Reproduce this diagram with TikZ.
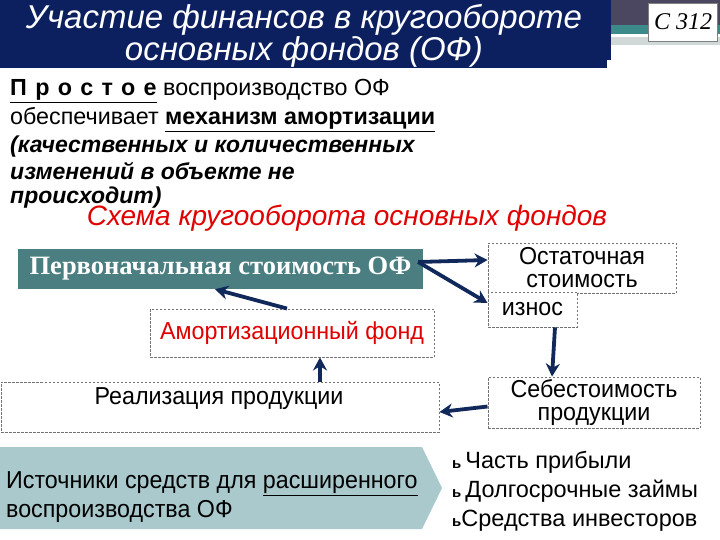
\documentclass[tikz,border=0pt]{standalone}
\usepackage{fontspec}
\setmainfont{Liberation Sans}
\newfontfamily\serifb{Liberation Serif}
\newfontfamily\narrow[FakeStretch=0.95]{Liberation Sans}
\usetikzlibrary{arrows.meta,calc}
\definecolor{navy}{RGB}{12,32,96}
\definecolor{tealbox}{RGB}{74,126,128}
\definecolor{arrowc}{RGB}{16,40,90}
\definecolor{pent}{RGB}{169,201,204}
\definecolor{redt}{RGB}{224,0,0}
\definecolor{topgray}{RGB}{75,71,96}
\definecolor{stripe}{RGB}{61,138,138}
\definecolor{lightstripe}{RGB}{208,216,216}
\tikzset{
  dbox/.style={draw=black!55, dashed, dash pattern=on 2.5pt off 1.5pt, line width=0.9pt, inner sep=0pt},
  arr/.style={draw=arrowc, line width=3.8pt, -{Stealth[length=13pt,width=14pt]}},
  bodyt/.style={inner sep=0pt, anchor=base west, font=\fontsize{23.3}{26}\selectfont},
  bodyi/.style={inner sep=0pt, anchor=base west, font=\bfseries\itshape\fontsize{23}{26}\selectfont},
  boxt/.style={inner sep=0pt, font=\narrow\fontsize{24.5}{26}\selectfont},
  bullt/.style={inner sep=0pt, anchor=west, font=\fontsize{23.5}{26}\selectfont},
}
\begin{document}
\begin{tikzpicture}[x=1pt,y=-1pt]
\useasboundingbox (0,0) rectangle (720,540);
% title bar
\fill[navy] (0,0) rectangle (607,68);
\fill[topgray] (607,0) rectangle (720,25);
\fill[stripe] (607,25) rectangle (720,34);
\fill[lightstripe] (607,37) rectangle (720,45);
\fill[navy] (607,0) rectangle (611,60);
\node[inner sep=0pt, align=center, text=white, font=\itshape\fontsize{33}{28}\selectfont] (title) at (304,36)
  {Участие финансов в кругообороте\\основных фондов (ОФ)};
\node[draw=black!50, fill=white, line width=0.8pt, minimum width=69pt, minimum height=38pt, inner sep=0pt,
  font=\serifb\itshape\fontsize{24}{26}\selectfont] (code) at (683,22) {С 312};
% text block
\node[bodyt] (l1) at (10,96) {{\bfseries\addfontfeature{LetterSpace=36}\underline{Простое}} воспроизводство ОФ};
\node[bodyt] (l2) at (10,125) {обеспечивает \textbf{\underline{механизм амортизации}}};
\node[bodyi] (l3) at (10,153) {(качественных и количественных};
\node[bodyi] (l4) at (10,180) {изменений в объекте не};
\node[bodyi] (l5) at (10,204) {происходит)};
\node[inner sep=0pt, text=redt, font=\itshape\fontsize{28}{28}\selectfont] (schema) at (347,218) {Схема кругооборота основных фондов};
% boxes
\node[fill=tealbox, minimum width=405pt, minimum height=40pt, inner sep=0pt, text=white,
  font=\serifb\bfseries\fontsize{26.5}{28}\selectfont] (perv) at (220.5,269) {Первоначальная стоимость ОФ};
\node[dbox, minimum width=188pt, minimum height=50pt, align=center, font=\narrow\fontsize{24.5}{23}\selectfont] (ost) at (582,268) {Остаточная\\стоимость};
\node[dbox, fill=white, minimum width=89pt, minimum height=35pt, boxt] (iznos) at (532.5,309.5) {износ};
\node[dbox, minimum width=284pt, minimum height=48pt, boxt, text=redt] (amort) at (292,333) {Амортизационный фонд};
\node[dbox, minimum width=438pt, minimum height=50pt] (real) at (220,407) {};
\node[boxt] (realt) at (219,399) {Реализация продукции};
\node[dbox, minimum width=212pt, minimum height=51pt, align=center, font=\narrow\fontsize{24.5}{23}\selectfont] (sebes) at (594,402.5) {Себестоимость\\продукции};
% pentagon
\fill[pent] (0,447) -- (422,447) -- (442,488) -- (422,529) -- (0,529) -- cycle;
\node[inner sep=0pt, anchor=west, align=left, font=\narrow\fontsize{24.5}{29}\selectfont] (ist) at (6,497)
  {Источники средств для \underline{расширенного}\\воспроизводства ОФ};
% bullets
\node[bullt] (b1) at (452,462) {{\fontsize{15}{15}\selectfont\bfseries ь}\,Часть прибыли};
\node[bullt] (b2) at (452,491) {{\fontsize{15}{15}\selectfont\bfseries ь}\,Долгосрочные займы};
\node[bullt] (b3) at (452,521) {{\fontsize{15}{15}\selectfont\bfseries ь}Средства инвесторов};
% arrows
\draw[arr] ([xshift=-5pt,yshift=7pt]perv.east) -- ([yshift=8pt]ost.west);
\draw[arr] ([xshift=-5pt,yshift=7pt]perv.east) -- ([yshift=6.5pt]iznos.west);
\draw[arr] ([xshift=-5pt]amort.north) -- ([xshift=-5.5pt]perv.south);
\draw[arr] ([xshift=100pt]real.north) -- ([xshift=100pt]real.north |- amort.south);
\draw[arr] ([xshift=22.5pt]iznos.south) -- ([xshift=-42pt]sebes.north);
\draw[arr] ([yshift=-4pt]sebes.west) -- ([yshift=-5pt]real.east);
\end{tikzpicture}
\end{document}
